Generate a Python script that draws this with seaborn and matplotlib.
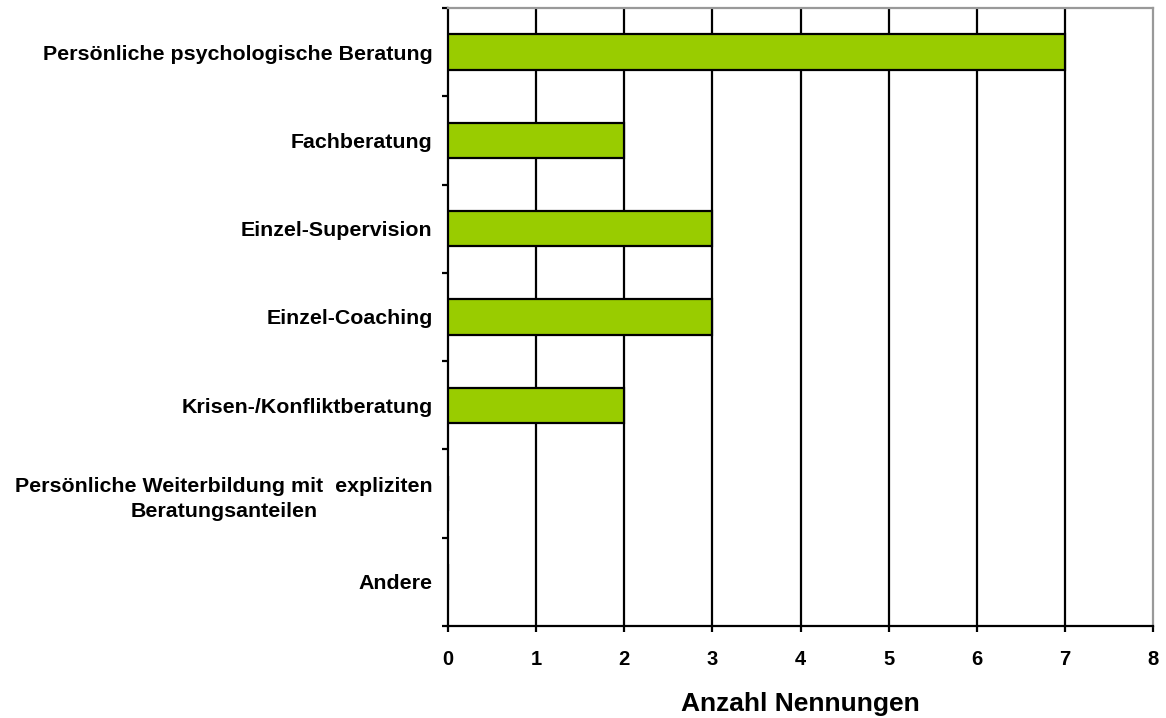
import numpy as np
import pandas as pd
import matplotlib
matplotlib.use('Agg')
import matplotlib.pyplot as plt
import seaborn as sns

categories = [
    'Persönliche psychologische Beratung',
    'Fachberatung',
    'Einzel-Supervision',
    'Einzel-Coaching',
    'Krisen-/Konfliktberatung',
    'Persönliche Weiterbildung mit  expliziten\nBeratungsanteilen',
    'Andere',
]
counts = [7, 2, 3, 3, 2, 0, 0]
x_ticks = [0, 1, 2, 3, 4, 5, 6, 7, 8]

df = pd.DataFrame({'kategorie': categories, 'anzahl': counts})

sns.set_style('white')
plt.rcParams['font.family'] = ['Liberation Sans', 'DejaVu Sans']
plt.rcParams['text.color'] = 'black'
plt.rcParams['xtick.color'] = 'black'
plt.rcParams['ytick.color'] = 'black'
plt.rcParams['axes.labelcolor'] = 'black'

fig = plt.figure(figsize=(11.66, 7.18), dpi=100)
ax = fig.add_axes([0.3842, 0.1281, 0.6047, 0.8608])

sns.barplot(data=df, x='anzahl', y='kategorie', orient='h', ax=ax,
            color='#99CC00', saturation=1, width=0.40,
            edgecolor='black', linewidth=1.6, zorder=3)

ax.set_xlim(0, 8)
ax.set_ylim(len(categories) - 0.5, -0.5)
ax.set_xticks(x_ticks)
ax.set_xticklabels([str(t) for t in x_ticks], fontsize=14.5, fontweight='bold')
for x in x_ticks[1:-1]:
    ax.axvline(x, color='black', lw=1.6, zorder=1)

# category labels without marks; ticks at the row boundaries
ax.set_yticks(range(len(categories)))
ax.set_yticklabels(categories, fontsize=15.4, fontweight='bold',
                   multialignment='center', linespacing=1.45)
ax.set_yticks(np.arange(-0.5, len(categories)), minor=True)
ax.tick_params(axis='y', which='major', length=0, pad=11)
ax.tick_params(axis='y', which='minor', length=4, width=1.6, color='black', direction='out', left=True)
ax.tick_params(axis='x', length=4, width=1.6, color='black', direction='out', bottom=True, pad=13.5)

ax.set_ylabel('')
ax.set_xlabel('Anzahl Nennungen', fontsize=19, fontweight='bold', labelpad=16)

for side in ['left', 'bottom']:
    ax.spines[side].set_color('black')
    ax.spines[side].set_linewidth(1.6)
for side in ['top', 'right']:
    ax.spines[side].set_color('#999999')
    ax.spines[side].set_linewidth(1.6)
    ax.spines[side].set_visible(True)

fig.savefig('out.png', dpi=100)
